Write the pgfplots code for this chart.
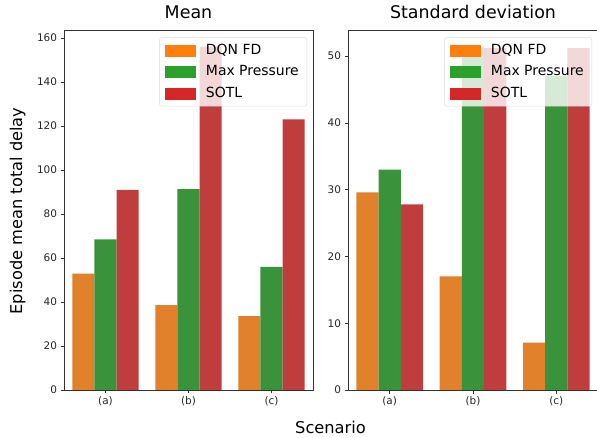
\documentclass[border=0pt]{standalone}
\usepackage{pgfplots}
\pgfplotsset{compat=1.18}
\usepackage{fontspec}
\setmainfont{DejaVu Sans}

% bar colours (seaborn, saturation 0.75) and legend patch colours
\definecolor{barorange}{HTML}{E1812C}
\definecolor{bargreen}{HTML}{3A923A}
\definecolor{barred}{HTML}{C03D3E}
\definecolor{legorange}{HTML}{FF7F0E}
\definecolor{leggreen}{HTML}{2CA02C}
\definecolor{legred}{HTML}{D62728}

\pgfplotsset{
  legpatch/.style={legend image code/.code={\fill[#1, fill opacity=1, sharp corners] (0bp,-5.3bp) rectangle (30bp,5.3bp);}},
  bars/.style={ybar, bar width=0.2667, draw=none, forget plot},
  panel/.style={
    scale only axis,
    height=360bp,
    xmin=-0.5, xmax=2.5, ymin=0,
    xtick={0,1,2}, xticklabels={(a),(b),(c)},
    tick align=outside, xtick pos=bottom, ytick pos=left,
    major tick length=3.5bp,
    tick style={black!80, line width=0.6bp},
    axis line style={black!80, line width=0.6bp},
    tick label style={font=\fontsize{10.5}{12}\selectfont, text=black!85},
    /pgf/number format/assume math mode=true,
    title style={font=\fontsize{17.5}{20}\selectfont, anchor=base, at={(0.5,1)}, yshift=6bp},
    legend cell align=left,
    legend style={at={(1,1)}, anchor=north east, xshift=-6bp, yshift=-7.5bp,
      draw=black!15, rounded corners=2bp, fill=white, fill opacity=0.8, text opacity=1,
      font=\fontsize{14}{16}\selectfont, inner xsep=5bp, inner ysep=2bp, column sep=8bp,
      nodes={inner sep=3bp, inner ysep=4bp, text height=10.5bp, text depth=3bp}},
  },
}

\begin{document}
\begin{tikzpicture}
\useasboundingbox (0,0) rectangle (597bp,438bp);

\begin{axis}[panel, at={(64bp,48bp)}, anchor=south west, width=249bp,
  ymax=163.6, ytick={0,20,...,160}, title={Mean}]
  \addplot[bars, bar shift=-0.2667, fill=barorange] coordinates {(0,52.9) (1,38.6) (2,33.6)};
  \addplot[bars, bar shift=0, fill=bargreen] coordinates {(0,68.5) (1,91.3) (2,55.9)};
  \addplot[bars, bar shift=0.2667, fill=barred] coordinates {(0,91.0) (1,156.0) (2,123.0)};
  \addlegendimage{legpatch=legorange}\addlegendentry{DQN FD}
  \addlegendimage{legpatch=leggreen}\addlegendentry{Max Pressure}
  \addlegendimage{legpatch=legred}\addlegendentry{SOTL}
\end{axis}

\begin{axis}[panel, at={(348bp,48bp)}, anchor=south west, width=250bp,
  ymax=53.9, ytick={0,10,...,50}, title={Standard deviation}]
  \addplot[bars, bar shift=-0.2667, fill=barorange] coordinates {(0,29.6) (1,17.0) (2,7.1)};
  \addplot[bars, bar shift=0, fill=bargreen] coordinates {(0,33.0) (1,51.3) (2,47.0)};
  \addplot[bars, bar shift=0.2667, fill=barred] coordinates {(0,27.8) (1,51.2) (2,51.2)};
  \addlegendimage{legpatch=legorange}\addlegendentry{DQN FD}
  \addlegendimage{legpatch=leggreen}\addlegendentry{Max Pressure}
  \addlegendimage{legpatch=legred}\addlegendentry{SOTL}
\end{axis}

\node[rotate=90, anchor=base, font=\fontsize{16.3}{18}\selectfont] at (22bp,227bp) {Episode mean total delay};
\node[anchor=base, font=\fontsize{16.3}{18}\selectfont] at (330.5bp,5bp) {Scenario};
\end{tikzpicture}
\end{document}
